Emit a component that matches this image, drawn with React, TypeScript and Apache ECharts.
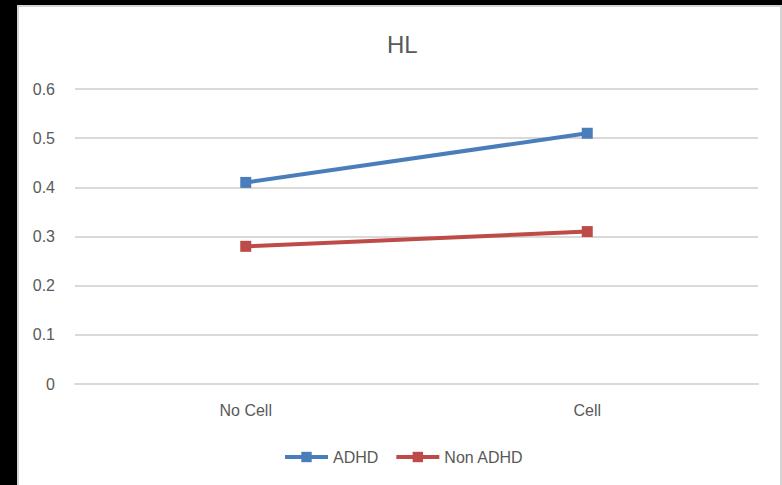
import React, { useEffect, useRef } from "react";
import * as echarts from "echarts";

const categories = ["No Cell", "Cell"];
const adhd = [0.41, 0.51];
const nonAdhd = [0.28, 0.31];
const yTicks = [0, 0.1, 0.2, 0.3, 0.4, 0.5, 0.6];

const FONT = "Liberation Sans";
const TEXT = "#595959";
const BLUE = "#4a7ebb";
const RED = "#be4b48";

export default function App() {
  const ref = useRef<HTMLDivElement>(null);

  useEffect(() => {
    if (!ref.current) return;
    const chart = echarts.init(ref.current, undefined, { renderer: "svg" });
    chart.setOption({
      animation: false,
      title: {
        text: "HL",
        left: 382,
        top: 27,
        textStyle: { fontFamily: FONT, fontSize: 24, fontWeight: "normal", color: TEXT },
      },
      legend: {
        left: 283,
        top: 449,
        padding: 0,
        itemWidth: 43,
        itemHeight: 13,
        itemGap: 16,
        lineStyle: { width: 4 },
        textStyle: { fontFamily: FONT, fontSize: 16, color: TEXT },
        data: ["ADHD", "Non ADHD"],
      },
      grid: { left: 75, right: 24, top: 89, bottom: 101 },
      xAxis: {
        type: "category",
        data: categories,
        boundaryGap: true,
        axisLine: { lineStyle: { color: "#d9d9d9", width: 2 } },
        axisTick: { show: false },
        axisLabel: { fontFamily: FONT, fontSize: 16, color: TEXT, margin: 18 },
      },
      yAxis: {
        type: "value",
        min: yTicks[0],
        max: yTicks[yTicks.length - 1],
        interval: 0.1,
        axisLine: { show: false },
        axisTick: { show: false },
        splitLine: { lineStyle: { color: "#d9d9d9", width: 2 } },
        axisLabel: {
          fontFamily: FONT,
          fontSize: 16,
          color: TEXT,
          margin: 20,
          formatter: (v: number) => String(Math.round(v * 10) / 10),
        },
      },
      series: [
        {
          name: "ADHD",
          type: "line",
          data: adhd,
          symbol: "rect",
          symbolSize: 11,
          lineStyle: { color: BLUE, width: 4 },
          itemStyle: { color: BLUE },
        },
        {
          name: "Non ADHD",
          type: "line",
          data: nonAdhd,
          symbol: "rect",
          symbolSize: 11,
          lineStyle: { color: RED, width: 4 },
          itemStyle: { color: RED },
        },
      ],
    });
    return () => chart.dispose();
  }, []);

  return (
    <div style={{ position: "fixed", left: 0, top: 0, width: 782, height: 485, background: "#000", overflow: "hidden" }}>
      <div
        style={{
          position: "absolute",
          left: 17,
          top: 5,
          width: 761,
          height: 490,
          background: "#fff",
          borderTop: "2px solid #d4d4d4",
          borderLeft: "2px solid #d4d4d4",
          borderRight: "2px solid #d4d4d4",
        }}
      />
      <div ref={ref} style={{ position: "absolute", left: 0, top: 0, width: 782, height: 485 }} />
    </div>
  );
}
